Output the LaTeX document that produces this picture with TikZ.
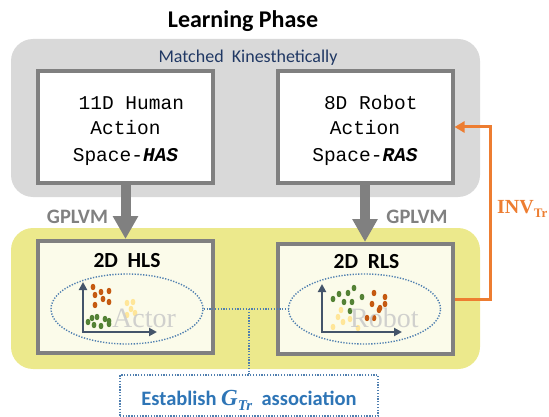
\documentclass[tikz,border=0pt]{standalone}
\usepackage{fontspec}
\setmainfont{Carlito}
\newfontfamily\monof{Liberation Mono}
\newfontfamily\seriff{Liberation Serif}
\usetikzlibrary{shapes.geometric,arrows.meta,calc}
\definecolor{panelgray}{HTML}{D9D9D9}
\definecolor{bordergray}{HTML}{808080}
\definecolor{panelyellow}{HTML}{ECE98C}
\definecolor{cream}{HTML}{FBFBEA}
\definecolor{navy}{HTML}{203864}
\definecolor{estblue}{HTML}{2E75B6}
\definecolor{dotblue}{HTML}{4F7FB0}
\definecolor{orangeline}{HTML}{ED7D31}
\definecolor{axiscol}{HTML}{44546A}
\definecolor{ptorange}{HTML}{C55A11}
\definecolor{ptgreen}{HTML}{548235}
\definecolor{ptyellow}{HTML}{FFE699}
\definecolor{ghost}{HTML}{C9C9C9}
\tikzset{
  panel/.style={rounded corners=22pt, minimum width=469pt, inner sep=0pt},
  spacebox/.style={draw=bordergray, line width=4pt, fill=white, minimum width=175pt, minimum height=112pt, inner sep=0pt},
  latentbox/.style={draw=bordergray, line width=4pt, fill=cream, minimum width=175pt, inner sep=0pt},
  monotext/.style={font=\monof\fontsize{19.5}{22}\selectfont, anchor=base, inner sep=0pt},
  dotell/.style={ellipse, draw=dotblue, line width=1.4pt, dash pattern=on 1.3pt off 1.5pt, minimum width=152pt, minimum height=70pt, inner sep=0pt},
  dotline/.style={draw=dotblue, line width=1.4pt, dash pattern=on 1.3pt off 1.5pt},
  bigarrow/.style={draw=bordergray, line width=10pt, -{Triangle[width=24pt,length=23pt]}},
  axisarrow/.style={draw=axiscol, line width=2pt, -{Triangle[width=8pt,length=8pt]}},
  gplvm/.style={font=\bfseries\fontsize{20.5}{22}\selectfont, text=bordergray, anchor=base, inner sep=0pt},
  lstitle/.style={font=\bfseries\fontsize{21.5}{22}\selectfont, anchor=base, inner sep=0pt},
  ghosttext/.style={font=\seriff\fontsize{28}{30}\selectfont, text=ghost, anchor=base west, inner sep=0pt, text opacity=0.85},
}
\begin{document}
\begin{tikzpicture}[x=1pt,y=-1pt]
\useasboundingbox (0,0) rectangle (549,417);
% panels
\node[panel, fill=panelgray, minimum height=158pt] (learn) at (245.5,118) {};
\node[panel, fill=panelyellow, minimum height=141pt] (latent) at (245.5,298.5) {};
% titles
\node[font=\bfseries\fontsize{24}{26}\selectfont, anchor=base, inner sep=0pt] (title) at (243,28) {Learning Phase};
\node[font=\fontsize{18}{20}\selectfont, text=navy, anchor=base, inner sep=0pt] (matched) at (248,63) {Matched\ \ Kinesthetically};
% action space boxes
\node[spacebox] (has) at (125.5,127) {};
\node[spacebox] (ras) at (365,127) {};
\node[monotext] (has1) at (125.5,110) {\phantom{1}11D Human};
\node[monotext] (has2) at (125.5,135) {Action};
\node[monotext] (has3) at (125.5,162) {Space-\textbf{\textit{HAS}}};
\node[monotext] (ras1) at (365,110) {\phantom{1}8D Robot};
\node[monotext] (ras2) at (365,135) {Action};
\node[monotext] (ras3) at (365,162) {Space-\textbf{\textit{RAS}}};
% latent boxes
\node[latentbox, minimum height=112pt] (hls) at (125.5,297) {};
\node[latentbox, minimum height=110pt] (rls) at (365,299) {};
\node[lstitle] (hlst) at (127,267) {2D\ \ HLS};
\node[lstitle] (rlst) at (366.5,268) {2D\ \ RLS};
% ellipses
\node[dotell] (ellA) at (127,309) {};
\node[dotell] (ellR) at (364.5,309) {};
% left scatter
\foreach \px/\py in {93/287,95/295,101/292,109/291,103/299,109/302,95/305}
  \fill[ptorange] (\px,\py) ellipse [x radius=2.4pt, y radius=3.2pt];
\foreach \px/\py in {127/303,133/302,131/309,127/315,135/313}
  \fill[ptyellow] (\px,\py) ellipse [x radius=2.4pt, y radius=3.2pt];
\foreach \px/\py in {88/322,92/318,97/317,94/325,101/326,105/319,109/324,109/321}
  \fill[ptgreen] (\px,\py) ellipse [x radius=2.4pt, y radius=3.2pt];
\draw[axisarrow] (83,333) -- (83,282);
\draw[axisarrow] (82,332) -- (157,332);
\node[ghosttext] (actor) at (112,327) {Actor};
% right scatter
\foreach \px/\py in {333/299,339/294,344/302,348/293,354/288,352/302,362/297,350/311}
  \fill[ptgreen] (\px,\py) ellipse [x radius=2.4pt, y radius=3.2pt];
\foreach \px/\py in {374/293,385/297,372/304,380/308,385/304,379/310,367/318,374/318}
  \fill[ptorange] (\px,\py) ellipse [x radius=2.4pt, y radius=3.2pt];
\foreach \px/\py in {341/310,338/317,343/322,333/327,350/319,358/328}
  \fill[ptyellow] (\px,\py) ellipse [x radius=2.4pt, y radius=3.2pt];
\draw[axisarrow] (322,333) -- (322,284);
\draw[axisarrow] (321,332) -- (402,332);
\node[ghosttext] (robot) at (350,327) {Robot};
% GPLVM arrows
\draw[bigarrow] (has.south) -- (hls.north);
\draw[bigarrow] (ras.south) -- (rls.north);
\node[gplvm] (gpl) at (77.5,223) {GPLVM};
\node[gplvm] (gpr) at (417,223) {GPLVM};
% establish box
\node[dotline, minimum width=258pt, minimum height=41pt, inner sep=0pt] (est) at (249,395.5) {};
\node[font=\bfseries\fontsize{20.5}{22}\selectfont, text=estblue, anchor=base, inner sep=0pt] (estt) at (249,405)
  {Establish {\seriff\bfseries\itshape\fontsize{23}{24}\selectfont G\raisebox{-5pt}{\fontsize{15}{16}\selectfont Tr}}\ \ association};
\draw[dotline] (ellA.east) -- (ellR.west);
\coordinate (mid) at (est.north |- ellA.east);
\draw[dotline] (mid) -- (est.north);
% inverse transform arrow
\coordinate (corner) at (490,299);
\draw[orangeline, line width=3pt, -{Triangle[width=11pt,length=10pt]}] (rls.east) -- (corner) |- (ras.east);
\node[font=\seriff\bfseries\fontsize{20}{20}\selectfont, text=orangeline, anchor=base west, inner sep=0pt] (inv) at (497,213)
  {INV\raisebox{-4pt}{\fontsize{13}{14}\selectfont Tr}};
\end{tikzpicture}
\end{document}
